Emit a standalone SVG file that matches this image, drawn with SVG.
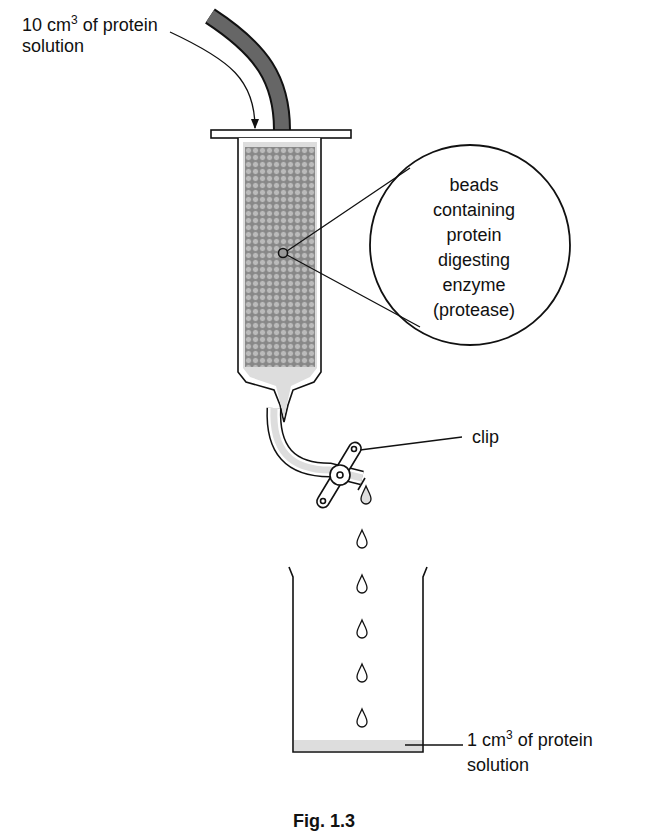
<svg xmlns="http://www.w3.org/2000/svg" width="665" height="839" viewBox="0 0 665 839">
<style>
text{font-family:"Liberation Sans",Arial,sans-serif;font-size:18px;fill:#111}
.o{fill:none;stroke:#111;stroke-width:1.6}
.drop{fill:#fff;stroke:#111;stroke-width:1.3}
</style>
<defs>
<pattern id="bd" width="7" height="7" patternUnits="userSpaceOnUse">
<rect width="7" height="7" fill="#888"/>
<circle cx="3.5" cy="3.5" r="3" fill="#bbb" stroke="#777" stroke-width="0.5"/>
</pattern>
<marker id="ar" viewBox="0 0 10 10" refX="9" refY="5" markerWidth="8" markerHeight="10" orient="auto"><path d="M0,1 L10,5 L0,9 Z" fill="#111"/></marker>
<path id="dp" d="M0,-9 C2,-4 5,0 5,4 A5,5 0 0 1 -5,4 C-5,0 -2,-4 0,-9 Z"/>
</defs>
<g id="feed-tube">
<path d="M210,16 C262,50 282,80 282,130" fill="none" stroke="#111" stroke-width="18"/>
<path d="M210,16 C262,50 282,80 282,130" fill="none" stroke="#666" stroke-width="14"/>
</g>
<g id="column">
<rect x="211" y="130" width="140" height="8" fill="#fff" stroke="#111" stroke-width="1.6"/>
<path d="M238,138 V372 L246,382 L274,390 L280,405 L284,422 L288,405 L293,390 L314,382 L321,372 V138" fill="#fff" stroke="#111" stroke-width="1.6"/>
<path d="M243,142 V368 L250,377 L276,386 L284,418 L291,386 L310,377 L317,368 V142 Z" fill="#ddd"/>
<rect x="245" y="147" width="70" height="220" fill="url(#bd)"/>
</g>
<g id="outlet-tube">
<path d="M274,408 C272,450 290,470 330,470 L362,478" fill="none" stroke="#111" stroke-width="15"/>
<path d="M274,408 C272,450 290,470 330,470 L362,478" fill="none" stroke="#fff" stroke-width="12"/>
<path d="M274,408 C272,450 290,470 330,470 L362,478" fill="none" stroke="#ddd" stroke-width="7"/>
<path d="M358,490 L365,478" class="o"/>
<use href="#dp" x="366" y="495" style="fill:#ddd;stroke:#111;stroke-width:1.3"/>
</g>
<g id="clip">
<path d="M318,498 L350,445 A6,6 0 0 1 360,452 L328,505 A6,6 0 0 1 318,498 Z" fill="#fff" stroke="#111" stroke-width="1.6"/>
<circle cx="354" cy="449" r="2.5" class="o"/>
<circle cx="323" cy="501" r="2.5" class="o"/>
<circle cx="340" cy="475" r="10" fill="#fff" stroke="#111" stroke-width="1.6"/>
<circle cx="340" cy="475" r="3" class="o"/>
</g>
<g id="lens">
<circle cx="470" cy="245" r="100" fill="#fff" stroke="#111" stroke-width="1.8"/>
<circle cx="283" cy="253" r="4.5" fill="#999" stroke="#111" stroke-width="1.5"/>
</g>
<g id="beaker">
<path d="M289,567 L293,577 V752 H423 V577 L427,567" class="o"/>
<rect x="294" y="740" width="128" height="11" fill="#ddd"/>
</g>
<g id="drops">
<use href="#dp" x="362" y="539" class="drop"/>
<use href="#dp" x="362" y="584" class="drop"/>
<use href="#dp" x="362" y="629" class="drop"/>
<use href="#dp" x="362" y="673" class="drop"/>
<use href="#dp" x="362" y="718" class="drop"/>
</g>
<g id="connectors" fill="none" stroke="#111" stroke-width="1.3">
<path d="M170,32 C230,60 255,80 255,128" marker-end="url(#ar)"/>
<path d="M287,251 L410,168 M287,255 L420,327"/>
<path d="M360,450 L462,437"/>
<path d="M405,745 L463,745"/>
</g>
<g id="labels">
<text x="22" y="31">10 cm<tspan dy="-7" font-size="12">3</tspan><tspan dy="7"> of protein</tspan></text>
<text x="22" y="52">solution</text>
<text text-anchor="middle" x="474" y="191">beads</text>
<text text-anchor="middle" x="474" y="216">containing</text>
<text text-anchor="middle" x="474" y="241">protein</text>
<text text-anchor="middle" x="474" y="266">digesting</text>
<text text-anchor="middle" x="474" y="291">enzyme</text>
<text text-anchor="middle" x="474" y="316">(protease)</text>
<text x="472" y="443">clip</text>
<text x="467" y="746">1 cm<tspan dy="-7" font-size="12">3</tspan><tspan dy="7"> of protein</tspan></text>
<text x="467" y="771">solution</text>
<text x="293" y="827" font-weight="bold">Fig. 1.3</text>
</g>
</svg>
